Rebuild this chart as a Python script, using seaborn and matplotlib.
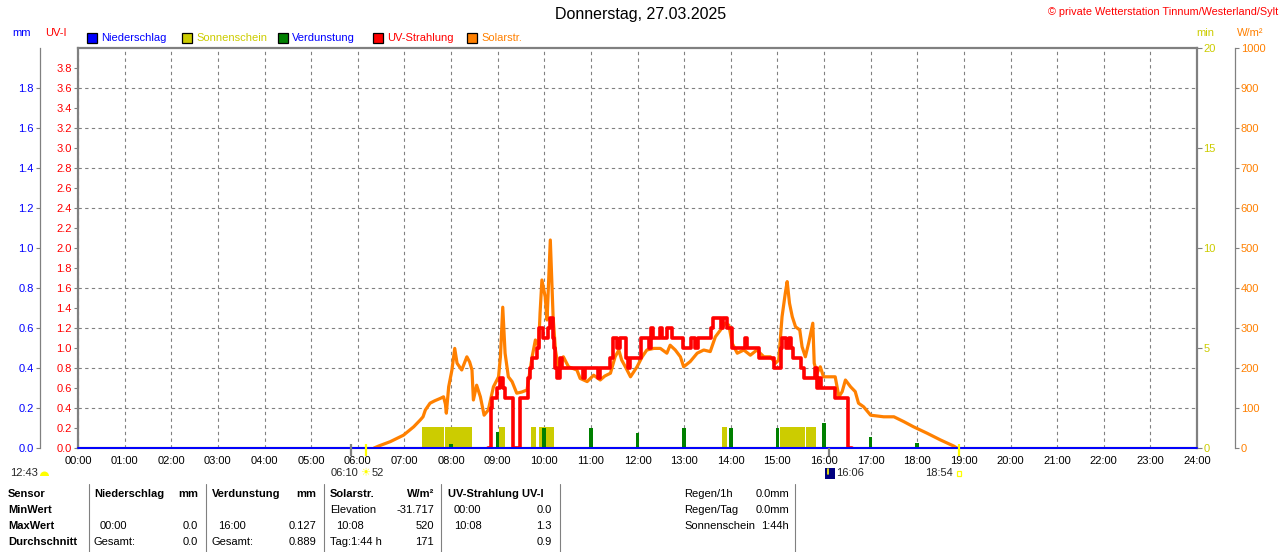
import numpy as np
import matplotlib
matplotlib.use('Agg')
import matplotlib.pyplot as plt
import seaborn as sns
from matplotlib.patches import Rectangle, Wedge
from matplotlib.lines import Line2D

# Solarstrahlung in W/m², Zeit in Stunden
solar_time = [6.35, 6.45, 6.70, 6.98, 7.20, 7.34, 7.40, 7.45, 7.55, 7.65, 7.77, 7.84, 7.88, 7.90,
              7.95, 8.02, 8.08, 8.13, 8.23, 8.34, 8.40, 8.45, 8.48, 8.55, 8.63, 8.71, 8.80, 8.91,
              9.02, 9.06, 9.11, 9.16, 9.23, 9.31, 9.41, 9.52, 9.63, 9.74, 9.81, 9.88, 9.91, 9.95,
              10.02, 10.06, 10.13, 10.19, 10.24, 10.31, 10.41, 10.52, 10.70, 10.77, 10.92, 11.06,
              11.20, 11.30, 11.42, 11.52, 11.60, 11.66, 11.74, 11.85, 11.99, 12.10, 12.20, 12.35,
              12.49, 12.63, 12.70, 12.81, 12.92, 12.99, 13.13, 13.28, 13.42, 13.56, 13.67, 13.78,
              13.88, 13.96, 14.03, 14.14, 14.28, 14.42, 14.56, 14.71, 14.85, 14.96, 15.03, 15.10,
              15.17, 15.21, 15.26, 15.32, 15.39, 15.48, 15.53, 15.60, 15.67, 15.76, 15.79, 15.85,
              15.92, 15.99, 16.14, 16.24, 16.32, 16.39, 16.46, 16.57, 16.67, 16.74, 16.85, 17.00,
              17.28, 17.50, 17.71, 17.92, 18.21, 18.50, 18.78, 18.85]
solar_wm2 = [0, 5, 16, 32, 53, 70, 78, 95, 112, 118, 124, 128, 110, 87,
             153, 195, 249, 212, 195, 228, 215, 195, 120, 157, 128, 82, 95, 153,
             178, 228, 352, 237, 178, 166, 137, 140, 145, 228, 270, 253, 337, 420,
             378, 320, 520, 328, 245, 195, 228, 203, 195, 174, 166, 182,
             170, 180, 187, 228, 245, 220, 203, 178, 203, 228, 245, 249,
             249, 237, 257, 245, 228, 203, 216, 237, 245, 241, 278, 295,
             312, 307, 262, 237, 245, 232, 245, 228, 228, 212, 220, 328,
             387, 416, 362, 328, 303, 295, 253, 228, 262, 312, 212, 187,
             203, 178, 178, 178, 128, 141, 170, 153, 141, 112, 103, 82,
             78, 78, 66, 53, 37, 20, 5, 0]

# UV-Strahlung (UV-Index), Stufenwerte
uv_time = [8.80, 8.85, 8.88, 8.98, 9.05, 9.12, 9.16, 9.34, 9.48, 9.66, 9.70, 9.73, 9.84, 9.89,
           9.98, 10.09, 10.13, 10.18, 10.21, 10.23, 10.27, 10.34, 10.39, 10.84, 10.88, 11.16,
           11.20, 11.41, 11.48, 11.57, 11.62, 11.75, 11.80, 11.84, 12.07, 12.25, 12.29, 12.33,
           12.48, 12.52, 12.64, 12.74, 12.97, 13.14, 13.24, 13.30, 13.57, 13.63, 13.79, 13.83,
           13.92, 14.02, 14.30, 14.34, 14.60, 14.93, 15.07, 15.09, 15.19, 15.25, 15.30, 15.34,
           15.51, 15.57, 15.80, 15.85, 15.89, 15.94, 16.24, 16.52, 16.60]
uv_index = [0.0, 0.4, 0.5, 0.6, 0.7, 0.6, 0.5, 0.0, 0.5, 0.7, 0.8, 0.9, 1.0, 1.2,
            1.1, 1.2, 1.3, 1.1, 1.0, 0.8, 0.7, 0.9, 0.8, 0.7, 0.8, 0.7,
            0.8, 0.9, 1.1, 1.0, 1.1, 0.9, 0.8, 0.9, 1.1, 1.0, 1.2, 1.1,
            1.2, 1.1, 1.2, 1.1, 1.0, 1.1, 1.0, 1.1, 1.2, 1.3, 1.2, 1.3,
            1.2, 1.0, 1.1, 1.0, 0.9, 0.8, 1.0, 1.1, 1.0, 1.1, 1.0, 0.9,
            0.8, 0.7, 0.8, 0.6, 0.7, 0.6, 0.5, 0.0, 0.0]

# Sonnenschein in min
sun_start = [7.37, 7.88, 9.03, 9.71, 9.89, 13.82, 15.06, 15.61]
sun_end = [7.85, 8.44, 9.15, 9.82, 10.20, 13.91, 15.59, 15.82]
sun_minutes = [1.05, 1.05, 1.05, 1.05, 1.05, 1.05, 1.05, 1.05]

# Verdunstung in mm
evap_time = [8, 9, 10, 11, 12, 13, 14, 15, 16, 17, 18]
evap_mm = [0.02, 0.08, 0.10, 0.10, 0.075, 0.10, 0.10, 0.10, 0.127, 0.055, 0.027]

# Niederschlag in mm
rain_time = [0, 24]
rain_mm = [0.0, 0.0]

# Markierungen unter der Achse
mark_gray = [5.85, 16.10]
mark_yellow = [6.17, 18.90]

hour_labels = [f'{h:02d}:00' for h in range(25)]

GRAY = '#808080'
BLUE = '#0000ff'
YELLOW = '#cccc00'
GREEN = '#008000'
RED = '#ff0000'
ORANGE = '#ff8000'

sns.set_theme(style='white')
plt.rcParams['font.family'] = ['Liberation Sans', 'DejaVu Sans']

W, H = 1280, 552
fig = plt.figure(figsize=(12.8, 5.52), dpi=100)


def fx(px):
    return px / W


def fy(py):
    return 1 - py / H


ax = fig.add_axes([fx(78), fy(448), 1119 / W, 400 / H])
ax_sol = ax.twinx()
ax_uv = ax.twinx()
ax_mm = ax.twinx()

# Sonnenschein (Balken) auf der Hauptachse
ax.set_axisbelow(True)
ax.bar(sun_start, sun_minutes, width=np.subtract(sun_end, sun_start), align='edge',
       color=YELLOW, linewidth=0, zorder=2)

# Solarstrahlung
sns.lineplot(x=solar_time, y=solar_wm2, ax=ax_sol, color=ORANGE, linewidth=2.3,
             estimator=None)

# UV
sns.lineplot(x=uv_time, y=uv_index, ax=ax_uv, color=RED, linewidth=2.6,
             estimator=None, drawstyle='steps-post')

# Verdunstung + Niederschlag
ax_mm.bar(evap_time, evap_mm, width=0.08, color=GREEN, linewidth=0)
sns.lineplot(x=rain_time, y=rain_mm, ax=ax_mm, color=BLUE, linewidth=1.4,
             estimator=None, clip_on=False)
ax_mm.vlines(mark_gray, [0.01, 0.0], [-0.02, -0.02], transform=ax_mm.get_xaxis_transform(),
             colors=GRAY, linewidth=1.6, clip_on=False)
ax_mm.vlines(mark_yellow, 0.01, -0.02, transform=ax_mm.get_xaxis_transform(),
             colors='#ffff00', linewidth=1.6, clip_on=False)

# Hauptachse: Zeit + min
ax.set_xlim(0, 24)
ax.set_ylim(0, 20)
ax.set_xticks(range(25))
ax.set_xticklabels(hour_labels)
ax.tick_params(axis='x', bottom=True, length=0, pad=6, labelsize=8, labelcolor='black')
ax.yaxis.tick_right()
ax.set_yticks([0, 5, 10, 15, 20])
ax.set_yticks(np.arange(0, 21, 2), minor=True)
ax.tick_params(axis='y', which='major', right=True, left=False, labelright=True, labelleft=False,
               length=3.5, width=0.8, color=GRAY, labelcolor=YELLOW, labelsize=8, pad=1)
ax.tick_params(axis='y', which='minor', length=0)
ax.grid(axis='x', which='major', color=GRAY, linewidth=0.8, linestyle=(0, (3, 3)))
ax.grid(axis='y', which='minor', color=GRAY, linewidth=0.8, linestyle=(0, (3, 3)))
ax.grid(axis='y', which='major', visible=False)
for sp in ax.spines.values():
    sp.set_color(GRAY)
    sp.set_linewidth(1.6)
ax.set_xlabel('')
ax.set_ylabel('')

for a in (ax_sol, ax_uv, ax_mm):
    for sp in a.spines.values():
        sp.set_visible(False)
    a.set_xlim(0, 24)
    a.set_xlabel('')
    a.set_ylabel('')
    a.grid(False)

# W/m²
ax_sol.set_ylim(0, 1000)
ax_sol.set_yticks(range(0, 1001, 100))
ax_sol.spines['right'].set_visible(True)
ax_sol.spines['right'].set_position(('outward', 27.4))
ax_sol.spines['right'].set_color(GRAY)
ax_sol.spines['right'].set_linewidth(0.9)
ax_sol.tick_params(axis='y', right=True, labelright=True, left=False, labelleft=False,
                   length=3, width=0.8, color=GRAY, labelcolor=ORANGE, labelsize=8, pad=1)

# UV-I
ax_uv.set_ylim(0, 4)
uv_ticks = np.round(np.arange(0, 3.81, 0.2), 1)
ax_uv.yaxis.tick_left()
ax_uv.set_yticks(uv_ticks)
ax_uv.set_yticklabels([f'{v:.1f}' for v in uv_ticks])
ax_uv.tick_params(axis='y', left=True, labelleft=True, right=False, labelright=False,
                  length=3, width=0.8, color=GRAY, labelcolor=RED, labelsize=8, pad=1.5)

# mm
ax_mm.set_ylim(0, 2)
mm_ticks = np.round(np.arange(0, 1.81, 0.2), 1)
ax_mm.yaxis.tick_left()
ax_mm.set_yticks(mm_ticks)
ax_mm.set_yticklabels([f'{v:.1f}' for v in mm_ticks])
ax_mm.spines['left'].set_visible(True)
ax_mm.spines['left'].set_position(('outward', 27.4))
ax_mm.spines['left'].set_color(GRAY)
ax_mm.spines['left'].set_linewidth(0.9)
ax_mm.tick_params(axis='y', left=True, labelleft=True, right=False, labelright=False,
                  length=3, width=0.8, color=GRAY, labelcolor=BLUE, labelsize=8, pad=1.5)

# Titel und Achsbeschriftungen oben
fig.text(fx(641), fy(15), 'Donnerstag, 27.03.2025', ha='center', va='center',
         fontsize=11.5, color='black')
fig.text(fx(1278), fy(12), '© private Wetterstation Tinnum/Westerland/Sylt', ha='right',
         va='center', fontsize=7.8, color=RED)
fig.text(fx(22), fy(33), 'mm', ha='center', va='center', fontsize=8, color=BLUE)
fig.text(fx(56), fy(33), 'UV-I', ha='center', va='center', fontsize=8, color=RED)
fig.text(fx(1205), fy(33), 'min', ha='center', va='center', fontsize=8, color=YELLOW)
fig.text(fx(1250), fy(33), 'W/m²', ha='center', va='center', fontsize=8, color=ORANGE)

# Legende
legend_items = [('Niederschlag', BLUE, BLUE, 87), ('Sonnenschein', YELLOW, YELLOW, 182),
                ('Verdunstung', GREEN, BLUE, 278), ('UV-Strahlung', RED, RED, 373),
                ('Solarstr.', ORANGE, ORANGE, 467)]
for label, fc, tc, x0 in legend_items:
    fig.patches.append(Rectangle((fx(x0), fy(43)), 10 / W, 10 / H, transform=fig.transFigure,
                                 facecolor=fc, edgecolor='black', linewidth=0.9))
    fig.text(fx(x0 + 14), fy(38), label, ha='left', va='center', fontsize=8, color=tc)

# Zeiten unter der Achse
fig.text(fx(10), fy(473), '12:43', ha='left', va='center', fontsize=8)
fig.patches.append(Wedge((44.5 / 100, (H - 476) / 100), 0.045, 0, 180,
                         transform=fig.dpi_scale_trans, facecolor='#ffff00', edgecolor='none'))
fig.text(fx(331), fy(473), '06:10', ha='left', va='center', fontsize=8)
fig.text(fx(365.5), fy(473), '☀', ha='center', va='center', fontsize=8, color='#ffff00',
         family='DejaVu Sans')
fig.text(fx(372), fy(473), '52', ha='left', va='center', fontsize=8)
fig.patches.append(Rectangle((fx(825), fy(479)), 10 / W, 11 / H, transform=fig.transFigure,
                             facecolor='#000080', edgecolor='none'))
fig.lines.append(Line2D([fx(827.5), fx(827.5)], [fy(469), fy(474)], transform=fig.transFigure,
                        color='#ffff00', linewidth=1.2))
fig.text(fx(836), fy(473), '16:06', ha='left', va='center', fontsize=8)
fig.text(fx(925), fy(473), '18:54', ha='left', va='center', fontsize=8)
fig.patches.append(Rectangle((fx(956.5), fy(475.5)), 4.5 / W, 4.5 / H, transform=fig.transFigure,
                             facecolor='none', edgecolor='#ffff00', linewidth=0.9))

# Tabelle
rows_y = [494, 510, 526, 542]
table_cells = [
    (8, 0, 'Sensor', 'left', 'bold'), (8, 1, 'MinWert', 'left', 'bold'),
    (8, 2, 'MaxWert', 'left', 'bold'), (8, 3, 'Durchschnitt', 'left', 'bold'),
    (94, 0, 'Niederschlag', 'left', 'bold'), (198, 0, 'mm', 'right', 'bold'),
    (100, 2, '00:00', 'left', 'normal'), (198, 2, '0.0', 'right', 'normal'),
    (94, 3, 'Gesamt:', 'left', 'normal'), (198, 3, '0.0', 'right', 'normal'),
    (212, 0, 'Verdunstung', 'left', 'bold'), (316, 0, 'mm', 'right', 'bold'),
    (218, 2, '16:00', 'left', 'normal'), (316, 2, '0.127', 'right', 'normal'),
    (212, 3, 'Gesamt:', 'left', 'normal'), (316, 3, '0.889', 'right', 'normal'),
    (330, 0, 'Solarstr.', 'left', 'bold'), (434, 0, 'W/m²', 'right', 'bold'),
    (330, 1, 'Elevation', 'left', 'normal'), (434, 1, '-31.717', 'right', 'normal'),
    (336, 2, '10:08', 'left', 'normal'), (434, 2, '520', 'right', 'normal'),
    (330, 3, 'Tag:1:44 h', 'left', 'normal'), (434, 3, '171', 'right', 'normal'),
    (448, 0, 'UV-Strahlung UV-I', 'left', 'bold'),
    (454, 1, '00:00', 'left', 'normal'), (552, 1, '0.0', 'right', 'normal'),
    (454, 2, '10:08', 'left', 'normal'), (552, 2, '1.3', 'right', 'normal'),
    (552, 3, '0.9', 'right', 'normal'),
    (684, 0, 'Regen/1h', 'left', 'normal'), (789, 0, '0.0mm', 'right', 'normal'),
    (684, 1, 'Regen/Tag', 'left', 'normal'), (789, 1, '0.0mm', 'right', 'normal'),
    (684, 2, 'Sonnenschein', 'left', 'normal'), (789, 2, '1:44h', 'right', 'normal'),
]
for x0, r, txt, ha, wt in table_cells:
    fig.text(fx(x0), fy(rows_y[r]), txt, ha=ha, va='center', fontsize=8, fontweight=wt,
             color='black')
for xs in [88.5, 205.5, 323.5, 441, 560, 795]:
    fig.lines.append(Line2D([fx(xs), fx(xs)], [fy(484), 0], transform=fig.transFigure,
                            color=GRAY, linewidth=0.8))

fig.savefig('out.png', dpi=100, facecolor='white')
